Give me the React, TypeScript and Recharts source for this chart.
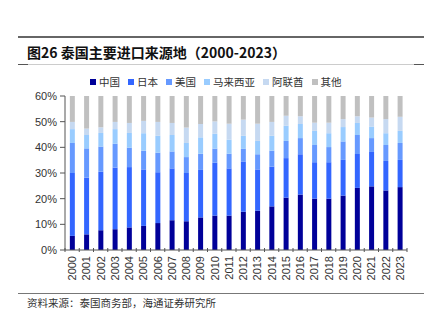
import React from 'react';
import { BarChart, Bar, XAxis, YAxis } from 'recharts';

const years = ['2000','2001','2002','2003','2004','2005','2006','2007','2008','2009','2010','2011','2012','2013','2014','2015','2016','2017','2018','2019','2020','2021','2022','2023'];
const china = [5.5,6.1,7.7,8.1,8.8,9.4,10.5,11.6,11.2,12.7,13.4,13.4,14.9,15.3,17.0,20.4,21.6,20.0,20.0,21.2,24.2,24.8,23.2,24.5];
const japan = [24.5,22.1,22.8,24.0,23.5,22.0,19.8,20.2,18.8,18.5,20.6,18.4,19.6,16.1,15.5,15.4,15.7,14.2,14.2,13.9,13.2,13.4,11.5,10.6];
const usa = [11.7,11.4,9.8,9.3,7.6,7.3,7.6,6.6,6.2,6.3,5.5,5.7,4.9,5.9,6.2,6.7,6.3,6.7,5.9,7.2,7.4,5.4,6.2,6.6];
const malaysia = [5.4,5.2,5.3,5.7,5.7,6.8,6.6,6.4,5.5,6.4,5.8,5.5,5.1,5.2,5.8,5.9,5.5,5.5,5.4,5.6,4.7,4.5,4.6,4.7];
const uae = [2.8,2.5,2.2,2.8,3.9,4.8,5.4,4.7,6.0,5.2,4.8,6.2,6.3,6.7,5.4,3.9,3.0,3.2,4.1,3.1,2.6,3.5,5.5,5.5];
const others = [50.1,52.7,52.2,50.1,50.5,49.7,50.1,50.5,52.3,50.9,49.9,50.8,49.2,50.8,50.1,47.7,47.9,50.4,50.4,49.0,47.9,48.4,49.0,48.1];
const yTicks = [0, 10, 20, 30, 40, 50, 60];

const seriesNames = ['中国', '日本', '美国', '马来西亚', '阿联酋', '其他'];
const seriesKeys = ['china', 'japan', 'usa', 'malaysia', 'uae', 'others'];
const seriesColors = ['#000099', '#3366FF', '#6699FF', '#99CCFF', '#C6D9F1', '#C0C0C0'];
const seriesArrays = [china, japan, usa, malaysia, uae, others];

const data = years.map((y, i) => {
  const row: any = { year: y };
  seriesKeys.forEach((k, j) => { row[k] = seriesArrays[j][i]; });
  return row;
});

const FONT = '"Liberation Sans", Arial, sans-serif';
const CJK = '"Noto Sans CJK SC", sans-serif';

const PLOT_LEFT = 65;
const PLOT_RIGHT = 407;
const BAND = (PLOT_RIGHT - PLOT_LEFT) / years.length;

const XTick = (props: any) => {
  const { x, y, payload, index } = props;
  return (
    <g>
      <line x1={x - BAND / 2} y1={y - 8} x2={x - BAND / 2} y2={y - 4} stroke="#555" strokeWidth={1} />
      {index === years.length - 1 && (
        <line x1={x + BAND / 2} y1={y - 8} x2={x + BAND / 2} y2={y - 4} stroke="#555" strokeWidth={1} />
      )}
      <text
        x={x}
        y={y}
        transform={`rotate(-90, ${x}, ${y})`}
        textAnchor="end"
        dominantBaseline="central"
        fontSize={11}
        fontFamily={FONT}
        fill="#333"
      >
        {payload.value}
      </text>
    </g>
  );
};

const LegendContent = () => (
  <div style={{ display: 'flex', alignItems: 'center', fontFamily: CJK, fontSize: 10.5, color: '#333', whiteSpace: 'nowrap' }}>
    {seriesNames.map((n, i) => (
      <div key={n} style={{ display: 'flex', alignItems: 'center', marginRight: 8 }}>
        <span style={{ display: 'inline-block', width: 6, height: 6, background: seriesColors[i], marginRight: 3 }} />
        <span>{n}</span>
      </div>
    ))}
  </div>
);

export default function App() {
  return (
    <div style={{ position: 'fixed', left: 0, top: 0, width: 433, height: 322, background: '#fff', overflow: 'hidden' }}>
      <div style={{ position: 'absolute', left: 18, top: 36, width: 406, height: 2, background: '#666' }} />
      <div style={{ position: 'absolute', left: 27, top: 42, fontFamily: CJK, fontWeight: 700, fontSize: 14, color: '#111', whiteSpace: 'nowrap', lineHeight: '20px' }}>
        图26 泰国主要进口来源地（2000-2023）
      </div>
      <div style={{ position: 'absolute', left: 18, top: 64, width: 406, height: 1, background: '#ccc' }} />
      <div style={{ position: 'absolute', left: 18, top: 64, width: 10, height: 1, background: '#555' }} />
      <div style={{ position: 'absolute', left: 414, top: 64, width: 10, height: 1, background: '#555' }} />
      <div style={{ position: 'absolute', left: 0, top: 0 }}>
        <BarChart
          width={433}
          height={322}
          data={data}
          margin={{ top: 96, right: 433 - PLOT_RIGHT, bottom: 0, left: 0 }}
          barCategoryGap="34%"
        >
          <XAxis
            dataKey="year"
            interval={0}
            tickLine={false}
            axisLine={{ stroke: '#555' }}
            tick={<XTick />}
            tickMargin={0}
            height={72}
          />
          <YAxis
            width={PLOT_LEFT}
            domain={[0, 60]}
            ticks={yTicks}
            allowDataOverflow
            tickFormatter={(v: number) => `${v}%`}
            axisLine={{ stroke: '#555' }}
            tickLine={{ stroke: '#555' }}
            tickSize={5}
            tickMargin={3}
            tick={{ fontSize: 11, fontFamily: FONT, fill: '#333' }}
            interval={0}
          />
          {seriesKeys.map((k, i) => (
            <Bar key={k} dataKey={k} name={seriesNames[i]} stackId="a" fill={seriesColors[i]} isAnimationActive={false} />
          ))}
        </BarChart>
      </div>
      <div style={{ position: 'absolute', left: 90, top: 74 }}>
        <LegendContent />
      </div>
      <div style={{ position: 'absolute', left: 18, top: 293, width: 406, height: 1, background: '#777' }} />
      <div style={{ position: 'absolute', left: 27, top: 296, fontFamily: CJK, fontSize: 10.5, color: '#333', whiteSpace: 'nowrap', lineHeight: '14px' }}>
        资料来源：泰国商务部，海通证券研究所
      </div>
    </div>
  );
}
